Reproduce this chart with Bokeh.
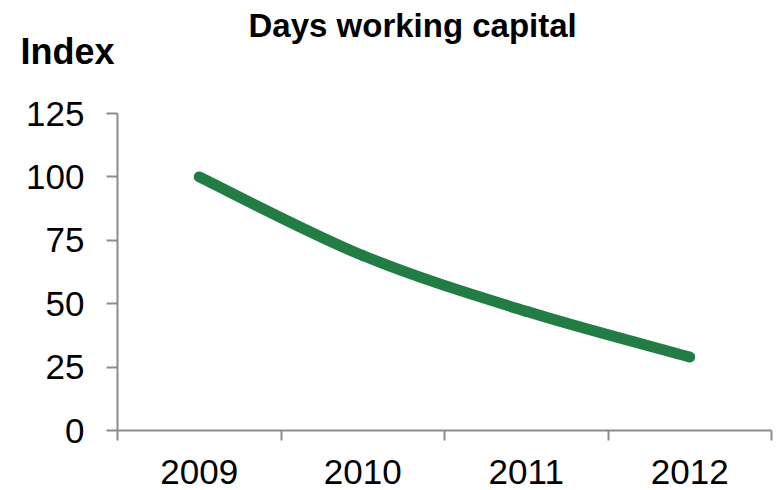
from bokeh.plotting import figure
from bokeh.models import Range1d, FixedTicker, Title
from bokeh.embed import file_html
from bokeh.resources import INLINE

# ---- data ----
years = ["2009", "2010", "2011", "2012"]
index_values = [100, 69, 47, 29]
y_ticks = [0, 25, 50, 75, 100, 125]

chart_title = "Days working capital"
y_title = "Index"

FONT = "Liberation Sans"
AXIS_COLOR = "#8c8c8c"
LINE_COLOR = "#217d43"

W, H = 777, 490
p = figure(width=W, height=H, output_backend="svg", toolbar_location=None,
           x_range=Range1d(0, len(years)), y_range=Range1d(0, 125),
           min_border_left=117, min_border_right=6, min_border_top=113,
           min_border_bottom=60)
p.outline_line_color = None
p.xgrid.grid_line_color = None
p.ygrid.grid_line_color = None
p.background_fill_color = "white"
p.border_fill_color = "white"

# x positions: category centres on a numeric scale
xs = [i + 0.5 for i in range(len(years))]

# smoothed line (Catmull-Rom style Bezier segments through the data points)
x0, y0, x1, y1, cx0, cy0, cx1, cy1 = [], [], [], [], [], [], [], []
n = len(xs)
for i in range(n - 1):
    xm, ym = xs[max(i - 1, 0)], index_values[max(i - 1, 0)]
    xa, ya = xs[i], index_values[i]
    xb, yb = xs[i + 1], index_values[i + 1]
    xp, yp = xs[min(i + 2, n - 1)], index_values[min(i + 2, n - 1)]
    x0.append(xa); y0.append(ya); x1.append(xb); y1.append(yb)
    cx0.append(xa + (xb - xm) / 6); cy0.append(ya + (yb - ym) / 6)
    cx1.append(xb - (xp - xa) / 6); cy1.append(yb - (yp - ya) / 6)

p.bezier(x0=x0, y0=y0, x1=x1, y1=y1, cx0=cx0, cy0=cy0, cx1=cx1, cy1=cy1,
         line_color=LINE_COLOR, line_width=11, line_cap="round")

# x axis: labels at centres, tick marks between categories
xax = p.xaxis[0]
xax.ticker = FixedTicker(ticks=xs, minor_ticks=list(range(len(years) + 1)))
xax.major_label_overrides = {x: y for x, y in zip(xs, years)}
xax.major_tick_out = 0
xax.major_tick_in = 0
xax.minor_tick_out = 10
xax.minor_tick_in = 0
xax.minor_tick_line_color = AXIS_COLOR
xax.minor_tick_line_width = 2
xax.axis_line_color = AXIS_COLOR
xax.axis_line_width = 2
xax.major_label_text_font = FONT
xax.major_label_text_font_size = "35px"
xax.major_label_text_color = "black"
xax.major_label_standoff = 19

yax = p.yaxis[0]
yax.ticker = FixedTicker(ticks=y_ticks)
yax.major_tick_out = 11
yax.major_tick_in = 0
yax.minor_tick_out = 0
yax.minor_tick_in = 0
yax.major_tick_line_color = AXIS_COLOR
yax.major_tick_line_width = 2
yax.axis_line_color = AXIS_COLOR
yax.axis_line_width = 2
yax.major_label_text_font = FONT
yax.major_label_text_font_size = "35px"
yax.major_label_text_color = "black"
yax.major_label_standoff = 22

# title stack above the frame: spacer, "Index", then the main title outermost
p.add_layout(Title(text=" ", text_font_size="1px", standoff=34), "above")
p.add_layout(Title(text=y_title, align="left", offset=-97, text_font=FONT,
                   text_font_size="36px", text_font_style="bold",
                   text_color="black", standoff=10), "above")
p.title.text = chart_title
p.title.align = "left"
p.title.offset = 131
p.title.standoff = -40
p.title.text_font = FONT
p.title.text_font_size = "33px"
p.title.text_font_style = "bold"
p.title.text_color = "black"

open("out.html", "w").write(file_html(p, INLINE))
